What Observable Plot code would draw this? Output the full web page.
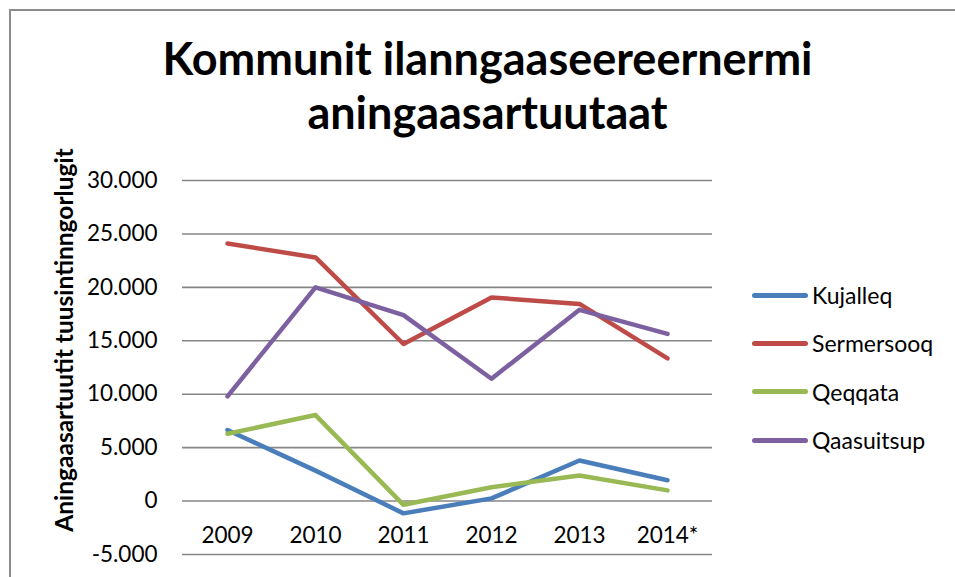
<!DOCTYPE html>
<html>
<head>
<meta charset="utf-8">
<script src="https://cdn.jsdelivr.net/npm/d3@7"></script>
<script src="https://cdn.jsdelivr.net/npm/@observablehq/plot@0.6"></script>
<style>
  html, body { margin: 0; padding: 0; background: #fff; overflow: hidden; }
  #wrap { position: relative; width: 955px; height: 577px; overflow: hidden; font-family: Lato, "Open Sans", sans-serif; }
  #border { position: absolute; left: 9px; top: 9px; width: 1100px; height: 800px; border: 2px solid #8c8c8c; box-sizing: border-box; pointer-events: none; }
  #title { height: 150px; box-sizing: border-box; padding-top: 31px; text-align: center; font-weight: 700; font-size: 45px; line-height: 54px; color: #000; padding-left: 20px; }
  #ytitle { position: absolute; left: 63px; top: 340px; transform: translate(-50%, -50%) rotate(-90deg); white-space: nowrap; font-weight: 700; font-size: 24.5px; color: #000; }
  #legend { position: absolute; left: 752px; top: 271px; }
  .item { display: flex; align-items: center; height: 48.3px; font-size: 23px; color: #000; }
  .sw { width: 56px; height: 5px; border-radius: 3px; margin-right: 4px; }
</style>
</head>
<body>
<div id="wrap">
  <div id="title">Kommunit ilanngaaseereernermi<br>aningaasartuutaat</div>
  <div id="chart"></div>
  <div id="ytitle">Aningaasartuutit tuusintinngorlugit</div>
  <div id="legend"></div>
  <div id="border"></div>
</div>
<script>
const years = ["2009", "2010", "2011", "2012", "2013", "2014*"];
const seriesNames = ["Kujalleq", "Sermersooq", "Qeqqata", "Qaasuitsup"];
const colors = ["#4a7ebb", "#be4b48", "#98b954", "#7d60a0"];
const kujalleq   = [6650, 2850, -1150, 250, 3800, 1950];
const sermersooq = [24100, 22800, 14700, 19050, 18450, 13350];
const qeqqata    = [6300, 8050, -350, 1300, 2400, 1000];
const qaasuitsup = [9800, 20000, 17400, 11450, 17900, 15650];
const yTicks = [-5000, 0, 5000, 10000, 15000, 20000, 25000, 30000];

const valuesBySeries = [kujalleq, sermersooq, qeqqata, qaasuitsup];
const data = [];
seriesNames.forEach((s, i) => years.forEach((y, j) => data.push({series: s, year: y, value: valuesBySeries[i][j]})));

const fmt = d3.formatLocale({decimal: ",", thousands: ".", grouping: [3], minus: "-"}).format(",");

const plot = Plot.plot({
  width: 955,
  height: 427,
  marginTop: 30,
  marginBottom: 23,
  marginLeft: 182,
  marginRight: 243,
  style: {fontFamily: "Lato, 'Open Sans', sans-serif", fontSize: "22.5px", color: "#000", background: "#fff"},
  x: {type: "point", domain: years, padding: 0.5, axis: null},
  y: {domain: [-5000, 30000]},
  color: {domain: seriesNames, range: colors},
  marks: [
    Plot.gridY(yTicks, {stroke: "#868686", strokeOpacity: 1, strokeWidth: 1.6}),
    Plot.axisY(yTicks, {tickSize: 0, tickPadding: 25, tickFormat: fmt, label: null, fill: "#000", fontSize: 22.5}),
    Plot.ruleX([0], {frameAnchor: "left", stroke: "#868686", strokeWidth: 1.6}),
    Plot.text(years, {x: d => d, frameAnchor: "bottom", dy: -19, lineAnchor: "middle", fill: "#000", fontSize: 22.5}),
    Plot.lineY(data, {x: "year", y: "value", z: "series", stroke: "series", strokeWidth: 4.5, strokeLinecap: "round", strokeLinejoin: "round"})
  ]
});
document.getElementById("chart").appendChild(plot);

const legend = document.getElementById("legend");
seriesNames.forEach((s, i) => {
  const item = document.createElement("div");
  item.className = "item";
  const sw = document.createElement("div");
  sw.className = "sw";
  sw.style.background = colors[i];
  const t = document.createElement("span");
  t.textContent = s;
  item.appendChild(sw); item.appendChild(t);
  legend.appendChild(item);
});
</script>
</body>
</html>
